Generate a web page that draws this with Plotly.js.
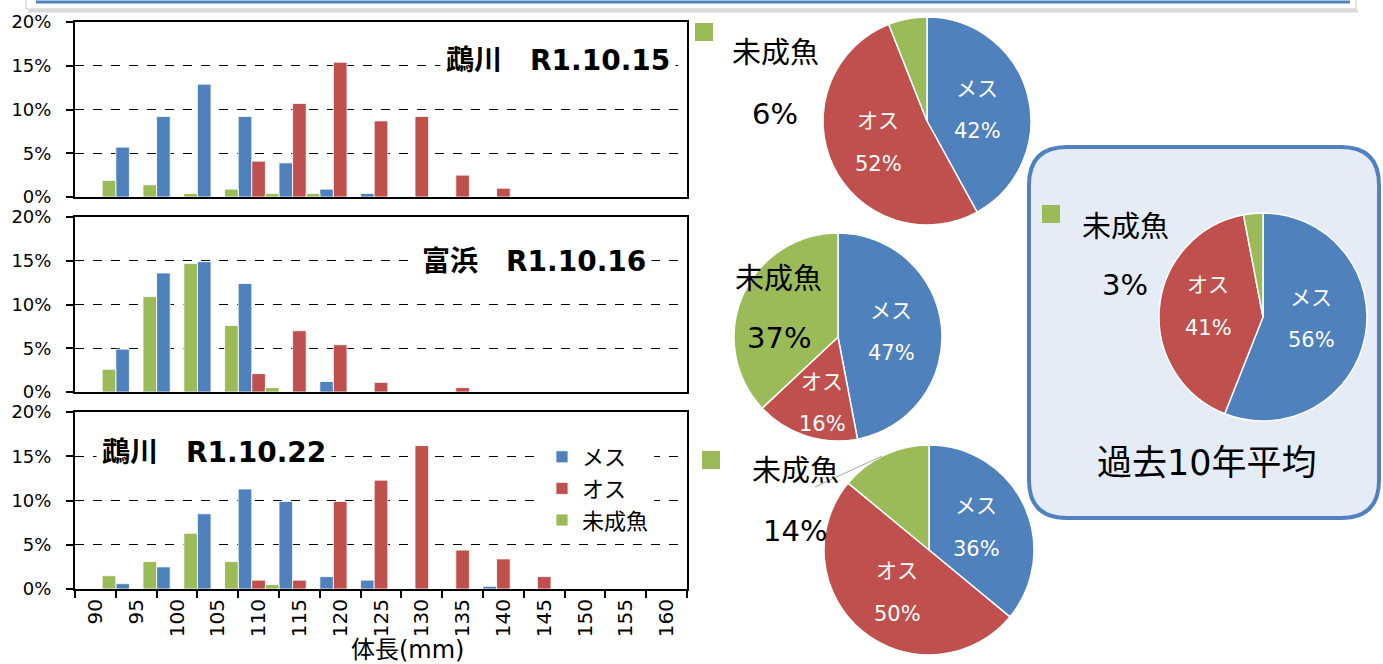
<!DOCTYPE html>
<html>
<head>
<meta charset="utf-8">
<script src="https://cdn.plot.ly/plotly-3.0.1.min.js"></script>
<style>html,body{margin:0;padding:0;background:#fff;}#chart{width:1383px;height:664px;}</style>
</head>
<body>
<div id="chart"></div>
<script>
// ---------- data ----------
const categories = ['90','95','100','105','110','115','120','125','130','135','140','145','150','155','160'];
const seriesNames = ['メス','オス','未成魚'];

const panel1Title = '鵡川　R1.10.15';
const panel1Mesu = [0, 5.7, 9.2, 12.9, 9.2, 3.9, 0.9, 0.4, 0, 0, 0, 0, 0, 0, 0];
const panel1Osu  = [0, 0, 0, 0, 4.1, 10.7, 15.4, 8.7, 9.2, 2.5, 1.0, 0, 0, 0, 0];
const panel1Mi   = [1.9, 1.4, 0.4, 0.9, 0.4, 0.4, 0, 0, 0, 0, 0, 0, 0, 0, 0];

const panel2Title = '富浜　R1.10.16';
const panel2Mesu = [0, 4.9, 13.6, 14.9, 12.4, 0, 1.2, 0, 0, 0, 0, 0, 0, 0, 0];
const panel2Osu  = [0, 0, 0, 0, 2.1, 7.0, 5.4, 1.1, 0, 0.5, 0, 0, 0, 0, 0];
const panel2Mi   = [2.6, 10.9, 14.7, 7.6, 0.5, 0, 0, 0, 0, 0, 0, 0, 0, 0, 0];

const panel3Title = '鵡川　R1.10.22';
const panel3Mesu = [0, 0.6, 2.5, 8.5, 11.3, 9.9, 1.4, 1.0, 0, 0, 0.3, 0, 0, 0, 0];
const panel3Osu  = [0, 0, 0, 0, 1.0, 1.0, 9.9, 12.3, 16.2, 4.4, 3.4, 1.4, 0, 0, 0];
const panel3Mi   = [1.5, 3.1, 6.3, 3.1, 0.5, 0, 0, 0, 0, 0, 0, 0, 0, 0, 0];

const xAxisTitle = '体長(mm)';

const pieLabels = ['メス','オス','未成魚'];
const pie1Values = [42, 52, 6];
const pie2Values = [47, 16, 37];
const pie3Values = [36, 50, 14];
const pie4Values = [56, 41, 3];
const pie4Caption = '過去10年平均';

// ---------- styling ----------
const W = 1383, H = 664;
const px = x => x / W;
const py = y => 1 - y / H;
const FONT = '"DejaVu Sans", "Noto Sans CJK JP", sans-serif';
const colors = ['#4f81bd', '#c0504d', '#9bbb59'];

const panels = [
  {title: panel1Title, data: [panel1Mesu, panel1Osu, panel1Mi], top: 22, bottom: 197},
  {title: panel2Title, data: [panel2Mesu, panel2Osu, panel2Mi], top: 217, bottom: 392},
  {title: panel3Title, data: [panel3Mesu, panel3Osu, panel3Mi], top: 412, bottom: 589}
];

const traces = [];
const layout = {
  width: W, height: H,
  margin: {l: 0, r: 0, t: 0, b: 0},
  paper_bgcolor: '#ffffff', plot_bgcolor: '#ffffff',
  font: {family: FONT, color: '#000'},
  barmode: 'group', bargap: 0, bargroupgap: 0,
  showlegend: true,
  legend: {
    x: px(542), y: py(436), xanchor: 'left', yanchor: 'top',
    bgcolor: 'rgba(255,255,255,1)', font: {size: 22, family: FONT, color: '#000'},
    tracegroupgap: 0, itemwidth: 30
  },
  annotations: [], shapes: []
};

panels.forEach((p, i) => {
  const n = i + 1;
  const xa = n === 1 ? 'x' : 'x' + n;
  const ya = n === 1 ? 'y' : 'y' + n;
  p.data.forEach((vals, s) => {
    traces.push({
      type: 'bar', x: categories, y: vals, name: seriesNames[s],
      xaxis: xa, yaxis: ya,
      marker: {color: colors[s], line: {color: 'rgba(255,255,255,0.8)', width: 1}},
      showlegend: n === 3, hoverinfo: 'skip'
    });
  });
  const isLast = n === 3;
  layout['xaxis' + (n === 1 ? '' : n)] = {
    domain: [px(75), px(687)], anchor: ya, type: 'category',
    showline: true, linecolor: '#000', linewidth: 2, mirror: true,
    showgrid: false, zeroline: false,
    showticklabels: isLast, ticks: isLast ? 'outside' : '', tickson: 'boundaries',
    ticklen: 7, tickwidth: 2, tickcolor: '#000',
    tickangle: -90, tickfont: {size: 20, family: FONT, color: '#000'},
    fixedrange: true
  };
  layout['yaxis' + (n === 1 ? '' : n)] = {
    domain: [py(p.bottom), py(p.top)], anchor: xa,
    range: [0, 20], dtick: 5, ticksuffix: '%',
    showline: true, linecolor: '#000', linewidth: 2, mirror: true,
    showgrid: true, gridcolor: '#000', gridwidth: 1.3, griddash: 'dash',
    zeroline: false, ticks: 'outside', ticklen: 7, tickwidth: 2, tickcolor: '#000',
    ticklabelstandoff: 11,
    tickfont: {size: 18, family: FONT, color: '#000'}, fixedrange: true
  };
});

// panel titles
const titlePos = [[558, 60], [534, 261], [214, 452]];
panels.forEach((p, i) => {
  layout.annotations.push({
    xref: 'paper', yref: 'paper', x: px(titlePos[i][0]), y: py(titlePos[i][1]),
    text: '<b>' + p.title + '</b>', showarrow: false, bgcolor: '#ffffff', borderpad: 5,
    font: {size: 28, family: FONT, color: '#000'}, xanchor: 'center', yanchor: 'middle'
  });
});
// axis title
layout.annotations.push({
  xref: 'paper', yref: 'paper', x: px(408), y: py(650), text: xAxisTitle, showarrow: false,
  font: {size: 24, family: FONT, color: '#000'}, xanchor: 'center', yanchor: 'middle'
});
// white box behind legend covering gridlines
layout.shapes.push({type: 'rect', xref: 'paper', yref: 'paper', layer: 'between',
  x0: px(526), x1: px(684), y0: py(528), y1: py(432), fillcolor: '#ffffff', line: {width: 0}});

// top frame remnant
layout.shapes.push({type: 'line', xref: 'paper', yref: 'paper', x0: px(28), x1: px(1358), y0: py(11), y1: py(11),
  line: {color: '#d9d9d9', width: 3}});
layout.shapes.push({type: 'rect', xref: 'paper', yref: 'paper', x0: px(26), x1: px(1356), y0: py(9), y1: py(-5),
  fillcolor: '#ffffff', line: {color: '#c8c8c8', width: 1}});
layout.shapes.push({type: 'line', xref: 'paper', yref: 'paper', x0: px(36), x1: px(1350), y0: py(2), y1: py(2),
  line: {color: '#4f81bd', width: 3}});

// rounded box for 10-year average
(function () {
  const x0 = 1029, x1 = 1379, y0 = 147, y1 = 518, r = 38;
  const P = (x, y) => px(x) + ',' + py(y);
  const path = 'M' + P(x0 + r, y0) + ' L' + P(x1 - r, y0) + ' Q' + P(x1, y0) + ' ' + P(x1, y0 + r) +
    ' L' + P(x1, y1 - r) + ' Q' + P(x1, y1) + ' ' + P(x1 - r, y1) +
    ' L' + P(x0 + r, y1) + ' Q' + P(x0, y1) + ' ' + P(x0, y1 - r) +
    ' L' + P(x0, y0 + r) + ' Q' + P(x0, y0) + ' ' + P(x0 + r, y0) + ' Z';
  layout.shapes.push({type: 'path', xref: 'paper', yref: 'paper', path: path, layer: 'below',
    fillcolor: '#e6ecf6', line: {color: '#5181c0', width: 4}});
})();

// pies
const pies = [
  {values: pie1Values, cx: 927, cy: 121, r: 104,
   inLabels: [[977, 89, 131], [878, 121, 164]], outLabel: {x: 775, y1: 53, y2: 114, size: 29, color: '#000'},
   square: [695, 23]},
  {values: pie2Values, cx: 838, cy: 337, r: 104,
   inLabels: [[891, 311, 353], [822, 382, 424]], outLabel: {x: 779, y1: 279, y2: 338, size: 29, color: '#000'},
   square: null},
  {values: pie3Values, cx: 929, cy: 550, r: 105,
   inLabels: [[976, 506, 549], [897, 571, 614]], outLabel: {x: 795, y1: 471, y2: 531, size: 29, color: '#000'},
   square: [702, 451]},
  {values: pie4Values, cx: 1263, cy: 317, r: 104,
   inLabels: [[1311, 298, 340], [1208, 285, 328]], outLabel: {x: 1125, y1: 227, y2: 285, size: 29, color: '#000'},
   square: [1042, 205]}
];

pies.forEach(pp => {
  traces.push({
    type: 'pie', labels: pieLabels, values: pp.values, sort: false, direction: 'clockwise', rotation: 0,
    marker: {colors: colors, line: {color: '#ffffff', width: 1.5}},
    textinfo: 'none', hoverinfo: 'skip', showlegend: false,
    domain: {x: [px(pp.cx - pp.r), px(pp.cx + pp.r)], y: [py(pp.cy + pp.r), py(pp.cy - pp.r)]}
  });
  pp.inLabels.forEach((pos, k) => {
    layout.annotations.push({xref: 'paper', yref: 'paper', x: px(pos[0]), y: py(pos[1]), text: pieLabels[k],
      showarrow: false, font: {size: 21, family: FONT, color: '#ffffff'}, xanchor: 'center', yanchor: 'middle'});
    layout.annotations.push({xref: 'paper', yref: 'paper', x: px(pos[0]), y: py(pos[2]), text: pp.values[k] + '%',
      showarrow: false, font: {size: 21, family: FONT, color: '#ffffff'}, xanchor: 'center', yanchor: 'middle'});
  });
  const o = pp.outLabel;
  layout.annotations.push({xref: 'paper', yref: 'paper', x: px(o.x), y: py(o.y1), text: pieLabels[2],
    showarrow: false, font: {size: o.size, family: FONT, color: o.color}, xanchor: 'center', yanchor: 'middle'});
  layout.annotations.push({xref: 'paper', yref: 'paper', x: px(o.x), y: py(o.y2), text: pp.values[2] + '%',
    showarrow: false, font: {size: o.size, family: FONT, color: o.color}, xanchor: 'center', yanchor: 'middle'});
  if (pp.square) {
    layout.shapes.push({type: 'rect', xref: 'paper', yref: 'paper',
      x0: px(pp.square[0]), x1: px(pp.square[0] + 18), y0: py(pp.square[1] + 18), y1: py(pp.square[1]),
      fillcolor: colors[2], line: {width: 0}});
  }
});
// leader line for pie 3 outside label
layout.shapes.push({type: 'line', xref: 'paper', yref: 'paper', x0: px(815), y0: py(487), x1: px(882), y1: py(456),
  line: {color: '#a6a6a6', width: 1}});

layout.annotations.push({xref: 'paper', yref: 'paper', x: px(1207), y: py(463), text: pie4Caption,
  showarrow: false, font: {size: 35, family: FONT, color: '#000'}, xanchor: 'center', yanchor: 'middle'});

Plotly.newPlot('chart', traces, layout, {staticPlot: true, displayModeBar: false});
</script>
</body>
</html>
